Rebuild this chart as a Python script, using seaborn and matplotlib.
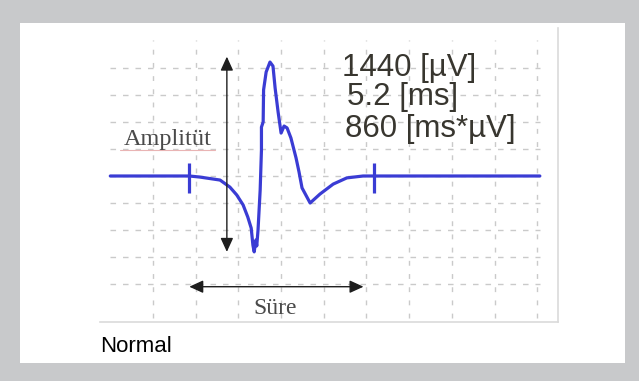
import numpy as np
import pandas as pd
import matplotlib
matplotlib.use("Agg")
import matplotlib.pyplot as plt
from matplotlib.patches import Rectangle
import seaborn as sns

# waveform, in grid divisions (x) and divisions (y)
wave_x = [0.0, 1.85, 2.10, 2.57, 2.80, 2.96, 3.11, 3.22, 3.30, 3.34, 3.37, 3.41, 3.43,
          3.46, 3.51, 3.54, 3.54, 3.58, 3.59, 3.65, 3.74, 3.81, 3.86, 3.93, 4.00, 4.07,
          4.14, 4.23, 4.35, 4.42, 4.49, 4.68, 4.91, 5.22, 5.54, 5.92, 6.18, 10.06]
wave_y = [0.0, 0.0, -0.04, -0.15, -0.41, -0.70, -1.07, -1.52, -1.93, -2.56, -2.81, -2.37, -2.59,
          -2.00, -0.52, 0.96, 1.81, 2.00, 3.19, 3.85, 4.22, 4.07, 3.26, 2.37, 1.59, 1.85,
          1.78, 1.41, 0.67, 0.15, -0.44, -1.00, -0.67, -0.30, -0.07, 0.0, 0.0, 0.0]

# duration markers on the baseline
marker_x = [1.85, 6.18]
# arrows: amplitude (vertical) and duration (horizontal)
amp_x = 2.73
amp_range = [4.42, -2.81]
dur_y = -4.10
dur_range = [1.85, 5.93]

values = ["1440 [µV]", "5.2 [ms]", "860 [ms*µV]"]
caption = "Normal"

sns.set_theme(style="white")
fig = plt.figure(figsize=(6.39, 3.81), dpi=100)
fig.patch.set_facecolor("#c8c9cb")
panel = Rectangle((20 / 639, 1 - 363 / 381), 605 / 639, 340 / 381,
                  transform=fig.transFigure, facecolor="white", edgecolor="none", zorder=-10)
fig.add_artist(panel)

ax = fig.add_axes([100 / 639, 1 - 322 / 381, 458 / 639, 294 / 381])
ax.set_zorder(1)
ax.set_facecolor("white")
ax.set_xlim(-0.241, 10.485)
ax.set_ylim(-5.407, 5.481)

# dotted grid
grid_col = "#cacaca"
ax.vlines(np.arange(1, 11), -5.26, 5.04, colors=grid_col, lw=1.0,
          linestyles=(0, (3.5, 6)), zorder=1)
ax.hlines(np.arange(-4, 5), 0.0, 10.07, colors=grid_col, lw=1.0,
          linestyles=(0, (4, 5)), zorder=1)

df = pd.DataFrame({"x": wave_x, "y": wave_y})
sns.lineplot(data=df, x="x", y="y", sort=False, estimator=None, color="#3a3cd4",
             lw=2.3, ax=ax, zorder=3)
ax.vlines(marker_x, -0.63, 0.48, colors="#3a3cd4", lw=2.3, zorder=3)

arrow_kw = dict(arrowstyle="<|-|>,head_length=0.7,head_width=0.32", color="#1e1e1e", lw=1.0,
                shrinkA=0, shrinkB=0)
ax.annotate("", xy=(amp_x, amp_range[0]), xytext=(amp_x, amp_range[1]),
            arrowprops=arrow_kw, zorder=4)
ax.annotate("", xy=(dur_range[0], dur_y), xytext=(dur_range[1], dur_y),
            arrowprops=arrow_kw, zorder=4)

ax.text(1.35, 1.37, "Amplitüt", family="Liberation Serif", fontsize=17.5, color="#4a4a4a",
        ha="center", va="center", zorder=4)
ax.plot([0.23, 2.45], [0.96, 0.96], color="#e9b4b4", lw=0.8, zorder=2)
ax.text(3.86, -4.89, "Süre", family="Liberation Serif", fontsize=17, color="#4a4a4a",
        ha="center", va="center", zorder=4)

for (tx, ty), s in zip([(5.42, 4.0), (5.54, 2.94), (5.49, 1.74)], values):
    ax.text(tx, ty, s, family="Liberation Sans", fontsize=22.5,
            color="#38362f", ha="left", va="center", zorder=4)

ax.set_xlabel("")
ax.set_ylabel("")
ax.set_xticks([])
ax.set_yticks([])
for side in ["top", "left"]:
    ax.spines[side].set_visible(False)
for side in ["right", "bottom"]:
    ax.spines[side].set_color("#dadada")
    ax.spines[side].set_linewidth(1.2)

fig.text(100 / 639, 1 - 352 / 381, caption, family="Liberation Sans", fontsize=16,
         color="black", ha="left", va="baseline")

fig.savefig("out.png", dpi=100, facecolor=fig.get_facecolor())
